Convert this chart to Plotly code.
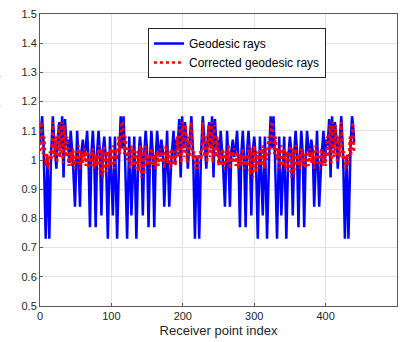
import plotly.graph_objects as go

# ---- data ----
blue_idx = [0, 1.5, 3, 5, 8, 10.5, 13, 15.5, 18, 20, 23, 25, 27, 29, 31, 33, 35, 37, 39, 41,
            43, 46, 49, 52, 54, 56, 58, 60, 62, 64, 66, 68, 70, 72, 74, 76, 78, 80, 82, 84,
            86, 88, 90, 92.5, 95, 98, 102, 105, 108, 111, 113, 115,
            117, 119, 122, 125, 128, 132, 135, 137.5, 140, 142, 144, 146, 148, 150, 152, 154,
            156, 158, 160, 162, 164, 166, 168, 170, 172, 174, 176, 178, 181, 184, 187, 189,
            191, 193, 195, 197, 199, 201, 203, 205, 207, 210, 212, 214.5, 217, 219.5,
            220.5, 223, 225.5, 228, 230, 233, 235, 237, 239, 241, 243, 245, 247, 249, 251,
            253, 256, 259, 262, 264, 266, 268, 270, 272, 274, 276, 278, 280, 282, 284, 286,
            288, 290, 292, 294, 296, 298, 300, 302.5, 305, 308, 312, 315, 318, 321, 323, 325,
            327, 329, 332, 335, 338, 342, 345, 347.5, 350, 352, 354, 356, 358, 360, 362, 364,
            366, 368, 370, 372, 374, 376, 378, 380, 382, 384, 386, 388, 391, 394, 397, 399,
            401, 403, 405, 407, 409, 411, 413, 415, 417, 420, 422, 424.5, 427, 429.5, 432,
            435, 437, 438.5, 440]
blue_val = [1.06, 1.12, 1.15, 1.05, 0.73, 1.01, 0.73, 1.02, 1.15, 1.06, 0.97, 1.08, 1.13, 1.04,
            1.15, 0.94, 1.14, 1.05, 1.07, 0.99, 1.10, 1.00, 0.84, 1.10, 1.00, 0.84, 1.03, 1.07,
            1.01, 1.04, 1.10, 1.00, 0.77, 1.02, 1.10, 1.00, 0.77, 1.03, 1.10, 1.02, 0.81, 1.03,
            1.08, 1.00, 0.73, 1.08, 0.81, 1.08, 0.73, 1.02, 1.15, 1.04,
            1.15, 1.02, 0.73, 1.08, 0.81, 1.08, 0.73, 1.00, 1.08, 1.03, 0.81, 1.02, 1.10, 1.03,
            0.77, 1.00, 1.10, 1.02, 0.77, 1.00, 1.10, 1.04, 1.01, 1.07, 1.03, 0.84, 1.00, 1.10,
            0.84, 1.00, 1.10, 0.99, 1.07, 1.05, 1.14, 0.94, 1.15, 1.04, 1.13, 1.08, 0.97, 1.06,
            1.15, 1.02, 0.73, 1.01,
            1.01, 0.73, 1.02, 1.15, 1.06, 0.97, 1.08, 1.13, 1.04, 1.15, 0.94, 1.14, 1.05, 1.07,
            0.99, 1.10, 1.00, 0.84, 1.10, 1.00, 0.84, 1.03, 1.07, 1.01, 1.04, 1.10, 1.00, 0.77,
            1.02, 1.10, 1.00, 0.77, 1.03, 1.10, 1.02, 0.81, 1.03, 1.08, 1.00, 0.73, 1.08, 0.81,
            1.08, 0.73, 1.02, 1.15, 1.04,
            1.15, 1.02, 0.73, 1.08, 0.81, 1.08, 0.73, 1.00, 1.08, 1.03, 0.81, 1.02, 1.10, 1.03,
            0.77, 1.00, 1.10, 1.02, 0.77, 1.00, 1.10, 1.04, 1.01, 1.07, 1.03, 0.84, 1.00, 1.10,
            0.84, 1.00, 1.10, 0.99, 1.07, 1.05, 1.14, 0.94, 1.15, 1.04, 1.13, 1.08, 0.97, 1.06,
            1.15, 1.02, 0.73, 1.01, 0.73, 1.05, 1.15, 1.12, 1.06]

red_val = [1.03, 1.13, 1.02, 1.08, 0.98, 1.02, 0.97, 1.03, 1.00, 1.13,
           1.01, 1.08, 0.99, 1.12, 1.01, 1.13, 0.99, 1.12, 1.01, 1.08,
           0.98, 1.03, 0.98, 1.04, 0.97, 1.03, 0.99, 1.05, 0.97, 1.03,
           0.99, 1.04, 0.98, 1.03, 0.97, 1.02, 0.98, 1.04, 0.97, 1.02,
           0.98, 1.05, 0.95, 1.04, 0.94, 1.05, 0.96, 1.03, 0.97, 1.04,
           0.98, 1.05, 0.97, 1.04, 1.00, 1.08, 1.02, 1.13,
           1.13, 1.02, 1.08, 1.00, 1.04, 0.97, 1.05, 0.98, 1.04, 0.97,
           1.03, 0.96, 1.05, 0.94, 1.04, 0.95, 1.05, 0.98, 1.02, 0.97,
           1.04, 0.98, 1.02, 0.97, 1.03, 0.98, 1.04, 0.99, 1.03, 0.97,
           1.05, 0.99, 1.03, 0.97, 1.04, 0.98, 1.03, 0.98, 1.08, 1.01,
           1.12, 0.99, 1.13, 1.01, 1.12, 0.99, 1.08, 1.01, 1.13, 1.00,
           1.03, 0.97, 1.02,
           0.97, 1.03, 1.00, 1.13, 1.01, 1.08, 0.99, 1.12, 1.01, 1.13,
           0.99, 1.12, 1.01, 1.08, 0.98, 1.03, 0.98, 1.04, 0.97, 1.03,
           0.99, 1.05, 0.97, 1.03, 0.99, 1.04, 0.98, 1.03, 0.97, 1.02,
           0.98, 1.04, 0.97, 1.02, 0.98, 1.05, 0.95, 1.04, 0.94, 1.05,
           0.96, 1.03, 0.97, 1.04, 0.98, 1.05, 0.97, 1.04, 1.00, 1.08,
           1.02, 1.13,
           1.13, 1.02, 1.08, 1.00, 1.04, 0.97, 1.05, 0.98, 1.04, 0.97,
           1.03, 0.96, 1.05, 0.94, 1.04, 0.95, 1.05, 0.98, 1.02, 0.97,
           1.04, 0.98, 1.02, 0.97, 1.03, 0.98, 1.04, 0.99, 1.03, 0.97,
           1.05, 0.99, 1.03, 0.97, 1.04, 0.98, 1.03, 0.98, 1.08, 1.01,
           1.12, 0.99, 1.13, 1.01, 1.12, 0.99, 1.08, 1.01, 1.13, 1.00,
           1.03, 0.97, 1.02, 0.98, 1.08, 1.02, 1.13, 1.03]
red_idx = list(range(0, 441, 2))

x_ticks = [0, 100, 200, 300, 400, 500]
y_ticks = [0.5, 0.6, 0.7, 0.8, 0.9, 1.0, 1.1, 1.2, 1.3, 1.4, 1.5]
y_ticktext = ["0.5", "0.6", "0.7", "0.8", "0.9", "1", "1.1", "1.2", "1.3", "1.4", "1.5"]

series_names = ["Geodesic rays", "Corrected geodesic rays"]
x_title = "Receiver point index"
y_title = "Normalized ray length"

FONT = "Liberation Sans, Arial, Helvetica, sans-serif"
TXT = "#262626"
GRID = "#e3e3e3"

fig = go.Figure()
fig.add_trace(go.Scatter(x=blue_idx, y=blue_val, mode="lines", name=series_names[0],
                         line=dict(color="#0000ff", width=2.5)))
fig.add_trace(go.Scatter(x=red_idx, y=red_val, mode="lines", name=series_names[1],
                         line=dict(color="#ff0000", width=2.5, dash="dot")))

fig.update_layout(
    width=402, height=342,
    margin=dict(l=40, r=5, t=14, b=36),
    paper_bgcolor="white", plot_bgcolor="white",
    font=dict(family=FONT, size=11, color=TXT),
    showlegend=True,
    legend=dict(x=0.3025, y=0.952, xanchor="left", yanchor="top",
                bgcolor="white", bordercolor=TXT, borderwidth=1,
                font=dict(family=FONT, size=12, color="#000000"),
                tracegroupgap=4),
)
fig.update_xaxes(range=[0, 500], tickvals=x_ticks, showgrid=True, gridcolor=GRID, gridwidth=1,
                 zeroline=False, showline=True, linecolor="#5a5a5a", linewidth=1, mirror=True,
                 ticks="inside", ticklen=3, tickcolor="#5a5a5a",
                 tickfont=dict(family=FONT, size=11, color=TXT),
                 title=dict(text=x_title, font=dict(family=FONT, size=13, color=TXT), standoff=4))
fig.update_yaxes(range=[0.5, 1.5], tickvals=y_ticks, ticktext=y_ticktext, showgrid=True,
                 gridcolor=GRID, gridwidth=1, zeroline=False, showline=True, linecolor="#5a5a5a",
                 linewidth=1, mirror=True, ticks="inside", ticklen=3, tickcolor="#5a5a5a",
                 tickfont=dict(family=FONT, size=11, color=TXT))

fig.add_annotation(text=y_title, xref="paper", yref="paper", x=-0.104, y=0.62,
                   xanchor="right", yanchor="middle", textangle=-90, showarrow=False,
                   font=dict(family=FONT, size=13, color=TXT))

fig.write_html("out.html")
